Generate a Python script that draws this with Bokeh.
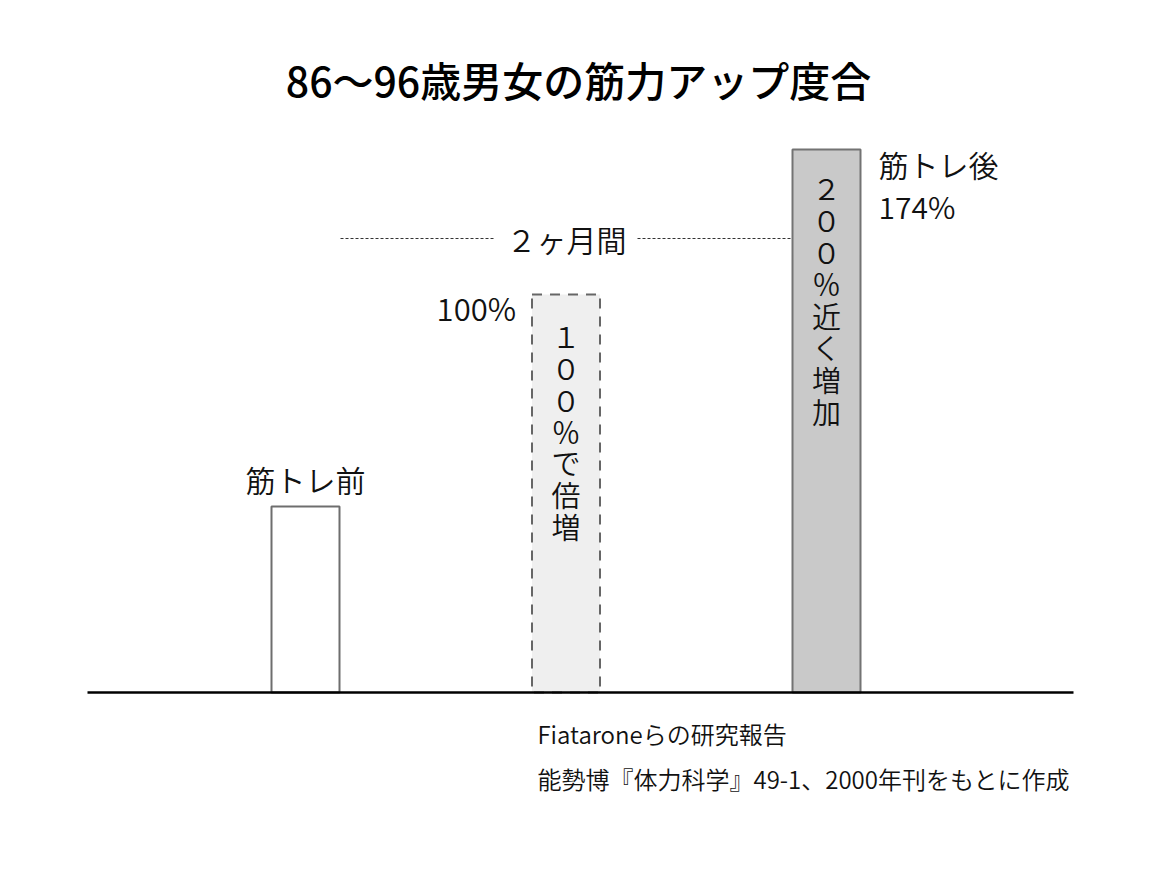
from bokeh.plotting import figure
from bokeh.models import Range1d
from bokeh.core.properties import value
from bokeh.embed import file_html
from bokeh.resources import INLINE

# ---- data (relative strength; before = 100) ----
stages = ["筋トレ前", "100%で倍増", "筋トレ後"]
strength = [100, 214, 292]
bar_labels = ["筋トレ前", "100%", "筋トレ後", "174%"]
inner_texts = ["", "１００％で倍増", "２００％近く増加"]
period_label = "２ヶ月間"
title_text = "86～96歳男女の筋力アップ度合"
notes = ["Fiataroneらの研究報告", "能勢博『体力科学』49-1、2000年刊をもとに作成"]

TITLE_FONT = value("'Noto Sans CJK JP Medium', 'Noto Sans CJK JP'")
FONT = value("'Noto Sans CJK JP DemiLight', 'Noto Sans CJK JP Light', 'Noto Sans CJK JP'")
W, H = 1166, 881
BASE_PY = 692.0
PX_PER_UNIT = 1.86
X0_PX = 305.0
SPACING = 260.5

def sx(px):
    return (px - X0_PX) / SPACING

def sy(py):
    return (BASE_PY - py) / PX_PER_UNIT

def dy(px):
    return px / PX_PER_UNIT

p = figure(width=W, height=H, output_backend="svg", toolbar_location=None,
           x_range=Range1d(sx(0), sx(W)), y_range=Range1d(sy(H), sy(0)),
           x_axis_location=None, y_axis_location=None, min_border=0,
           outline_line_color=None, background_fill_color="white")
p.grid.visible = False

idx = list(range(len(stages)))
bw = 68 / SPACING
TXT = "#111111"

# bar 0: before (white)
p.vbar(x=[idx[0]], top=[strength[0]], bottom=0, width=bw,
       fill_color="white", line_color="#6e6e6e", line_width=2)
# bar 1: doubled (dashed)
p.vbar(x=[idx[1]], top=[strength[1]], bottom=0, width=bw,
       fill_color="#efefef", line_color="#666666", line_width=2, line_dash="10 8")
# bar 2: after
p.vbar(x=[idx[2]], top=[strength[2]], bottom=0, width=bw,
       fill_color="#c9c9c9", line_color="#737373", line_width=2)

# baseline
p.line(x=[sx(87), sx(1073)], y=[0, 0], line_color="black", line_width=2.5)

# title
p.text(x=[sx(578)], y=[sy(78)], text=[title_text], text_font=TITLE_FONT,
       text_font_size="41px", text_align="center",
       text_baseline="middle", text_color="black")

# labels over bars
p.text(x=[idx[0]], y=[strength[0] + dy(28)], text=[bar_labels[0]], text_font=FONT,
       text_font_size="30px", text_align="center", text_baseline="middle", text_color=TXT)
p.text(x=[idx[1] - bw / 2 - 16 / SPACING], y=[strength[1] - dy(13)], text=[bar_labels[1]], text_font=FONT,
       text_font_size="31px", text_align="right", text_baseline="middle", text_color=TXT)
p.text(x=[idx[2] + bw / 2 + 18 / SPACING] * 2,
       y=[strength[2] - dy(15), strength[2] - dy(57)], text=bar_labels[2:], text_font=FONT,
       text_font_size="30px", text_align="left", text_baseline="middle", text_color=TXT)

# vertical inner texts (one character per line)
for i, first_off, step in ((1, 41, 31.7), (2, 38, 32.0)):
    chars = list(inner_texts[i])
    ys = [strength[i] - dy(first_off + k * step) for k in range(len(chars))]
    p.text(x=[idx[i]] * len(chars), y=ys, text=chars, text_font=FONT,
           text_font_size="29px", text_align="center", text_baseline="middle", text_color=TXT)

# period marker
py_period = 238
p.line(x=[sx(340), sx(495)], y=[sy(py_period)] * 2, line_color="#333333", line_width=1, line_dash="3 2")
p.line(x=[sx(637), sx(791)], y=[sy(py_period)] * 2, line_color="#333333", line_width=1, line_dash="3 2")
p.text(x=[sx(566)], y=[sy(py_period)], text=[period_label], text_font=FONT,
       text_font_size="30px", text_align="center", text_baseline="middle", text_color=TXT)

# notes
p.text(x=[sx(537)] * 2, y=[sy(733), sy(778)], text=notes, text_font=FONT,
       text_font_size="24px", text_align="left", text_baseline="middle", text_color=TXT)

open("out.html", "w").write(file_html(p, INLINE))
